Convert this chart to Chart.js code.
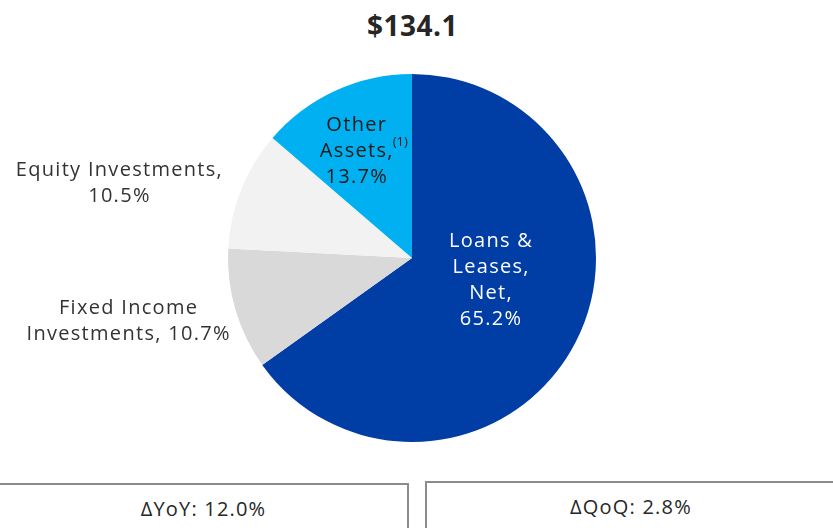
<!DOCTYPE html>
<html>
<head>
<meta charset="utf-8">
<script src="https://cdn.jsdelivr.net/npm/chart.js@4.4.0/dist/chart.umd.min.js"></script>
<style>
  body { margin: 0; background: #fff; font-family: "Open Sans", sans-serif; }
  #wrap { position: relative; width: 833px; height: 528px; overflow: hidden; }
  #title { position: absolute; left: 0; top: 6px; width: 825px; text-align: center;
           font-weight: 700; font-size: 28px; color: #262626; letter-spacing: 0.5px; }
  #chartBox { position: absolute; left: 0; top: 0; width: 833px; height: 470px; }
  .delta { position: absolute; top: 483px; height: 60px; border: 2px solid #8c8c8c; box-sizing: border-box;
           text-align: center; font-size: 20px; color: #262626; padding-top: 10px; letter-spacing: 1.2px; }
</style>
</head>
<body>
<div id="wrap">
  <div id="title">$134.1</div>
  <div id="chartBox"><canvas id="pie"></canvas></div>
  <div class="delta" style="left:-2px; width:411px;">ΔYoY: 12.0%</div>
  <div class="delta" style="left:425px; width:412px; top:481px;">ΔQoQ: 2.8%</div>
</div>
<script>
// asset mix, % of total
const categories = ['Loans & Leases, Net', 'Fixed Income Investments', 'Equity Investments', 'Other Assets'];
const shares = [65.2, 10.7, 10.5, 13.7];
const sliceColors = ['#003DA5', '#D9D9D9', '#F2F2F2', '#00B0F0'];

// label text per slice (lines), where to put it relative to pie center (in radii), and text colour
const labelLines = [
  ['Loans &', 'Leases,', 'Net,', '65.2%'],
  ['Fixed Income', 'Investments, 10.7%'],
  ['Equity Investments,', '10.5%'],
  ['Other', 'Assets,', '13.7%']
];
const labelSpots = [[0.43, 0.12], [-1.54, 0.345], [-1.59, -0.405], [-0.30, -0.58]];
const labelColors = ['#ffffff', '#333333', '#333333', '#1a1a1a'];

const sliceLabels = {
  id: 'sliceLabels',
  afterDatasetsDraw(chart) {
    const ctx = chart.ctx;
    const arc = chart.getDatasetMeta(0).data[0];
    const cx = arc.x, cy = arc.y, r = arc.outerRadius;
    const lh = 26;
    ctx.save();
    ctx.font = '20px "Open Sans", sans-serif';
    ctx.letterSpacing = '1.3px';
    ctx.textAlign = 'center';
    ctx.textBaseline = 'middle';
    labelLines.forEach((lines, i) => {
      const x = cx + labelSpots[i][0] * r;
      const y0 = cy + labelSpots[i][1] * r - (lines.length - 1) * lh / 2;
      ctx.fillStyle = labelColors[i];
      lines.forEach((t, k) => {
        ctx.fillText(t, x, y0 + k * lh);
        if (i === 3 && k === 1) {
          // footnote marker after "Assets,"
          const w = ctx.measureText(t).width;
          ctx.save();
          ctx.font = '13px "Open Sans", sans-serif';
          ctx.letterSpacing = '0px';
          ctx.textAlign = 'left';
          ctx.fillText('(1)', x + w / 2 - 1, y0 + k * lh - 9);
          ctx.restore();
        }
      });
    });
    ctx.restore();
  }
};

new Chart(document.getElementById('pie'), {
  type: 'pie',
  data: {
    labels: categories,
    datasets: [{
      data: shares,
      backgroundColor: sliceColors,
      borderWidth: 0
    }]
  },
  options: {
    responsive: true,
    maintainAspectRatio: false,
    animation: false,
    layout: { padding: { top: 74, bottom: 28, left: 0, right: 9 } },
    plugins: {
      legend: { display: false },
      tooltip: { enabled: false }
    }
  },
  plugins: [sliceLabels]
});
</script>
</body>
</html>
